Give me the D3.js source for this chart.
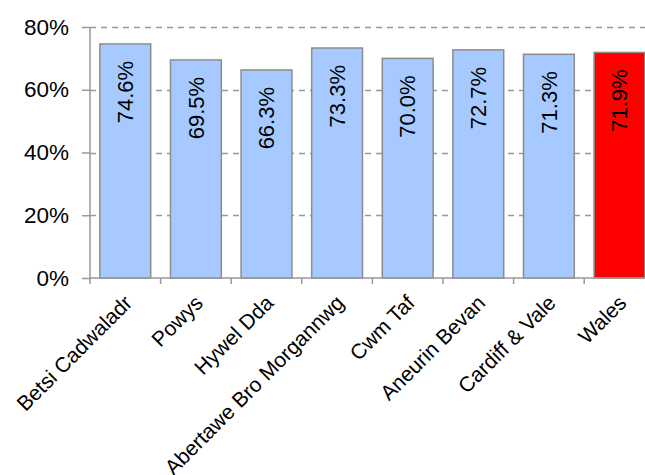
<!DOCTYPE html>
<html>
<head>
<meta charset="utf-8">
<script src="https://cdn.jsdelivr.net/npm/d3@7"></script>
<style>
  html, body { margin: 0; padding: 0; background: #fff; }
  svg { display: block; font-family: "Liberation Sans", Arial, sans-serif; }
</style>
</head>
<body>
<svg id="chart" width="645" height="475"></svg>
<script>
const categories = ["Betsi Cadwaladr", "Powys", "Hywel Dda", "Abertawe Bro Morgannwg", "Cwm Taf", "Aneurin Bevan", "Cardiff & Vale", "Wales"];
const values = [74.6, 69.5, 66.3, 73.3, 70.0, 72.7, 71.3, 71.9];
const highlight = ["Wales"];
const yTicks = [0, 20, 40, 60, 80];

(function () {
const svg = d3.select("#chart");
const mLeft = 90, mTop = 27, mBottom = 278, step = 70.6;
const mRight = mLeft + step * categories.length;

const x = d3.scaleBand().domain(categories).range([mLeft, mRight]).paddingInner(0.28).paddingOuter(0.14);
const y = d3.scaleLinear().domain([0, 80]).range([mBottom, mTop]);

const grey = "#999999";

// gridlines
svg.append("g").selectAll("line").data(yTicks.filter(d => d > 0)).join("line")
  .attr("x1", mLeft).attr("x2", 645)
  .attr("y1", d => Math.round(y(d)) + 0.5).attr("y2", d => Math.round(y(d)) + 0.5)
  .attr("stroke", grey).attr("stroke-width", 1.3).attr("stroke-dasharray", "6,5");

// bars
svg.append("g").selectAll("rect").data(values).join("rect")
  .attr("x", (d, i) => x(categories[i]))
  .attr("y", d => y(d))
  .attr("width", x.bandwidth())
  .attr("height", d => mBottom - y(d))
  .attr("fill", (d, i) => highlight.includes(categories[i]) ? "#FF0000" : "#A6CAFF")
  .attr("stroke", "#8c8c8c").attr("stroke-width", 1.5);

// data labels
svg.append("g").selectAll("text").data(values).join("text")
  .attr("transform", (d, i) => `translate(${x(categories[i]) + x.bandwidth() / 2},${y(d) + 17}) rotate(-90)`)
  .attr("text-anchor", "end").attr("dy", "0.35em")
  .attr("font-size", 22).attr("fill", "#000")
  .text(d => d.toFixed(1) + "%");

// y axis
const yAxis = d3.axisLeft(y).tickValues(yTicks).tickFormat(d => d + "%").tickSize(8).tickPadding(13);
const gy = svg.append("g").attr("transform", `translate(${mLeft},0)`).call(yAxis);
gy.select(".domain").attr("stroke", grey).attr("stroke-width", 1.5).attr("d", `M0,${mTop}V${mBottom}`);
gy.selectAll(".tick line").attr("stroke", grey).attr("stroke-width", 1.5);
gy.selectAll(".tick text").attr("font-size", 22.5).attr("fill", "#000").attr("font-family", "Liberation Sans, Arial, sans-serif");

// x axis
const xAxis = d3.axisBottom(x).tickSize(0).tickFormat("");
const gx = svg.append("g").attr("transform", `translate(0,${mBottom})`).call(xAxis);
gx.select(".domain").attr("stroke", grey).attr("stroke-width", 1.5).attr("d", `M${mLeft},0H645`);
gx.selectAll(".bound").data(categories).join("line").attr("class", "bound")
  .attr("x1", (d, i) => mLeft + i * x.step()).attr("x2", (d, i) => mLeft + i * x.step())
  .attr("y1", 0).attr("y2", 6).attr("stroke", grey).attr("stroke-width", 1.5);

// category labels
svg.append("g").selectAll("text").data(categories).join("text")
  .attr("transform", d => `translate(${x(d) + x.bandwidth() / 2 + 3},${mBottom + 21}) rotate(-45)`)
  .attr("text-anchor", "end").attr("dy", "0.35em")
  .attr("font-size", 21).attr("fill", "#000")
  .text(d => d);
})();
</script>
</body>
</html>
